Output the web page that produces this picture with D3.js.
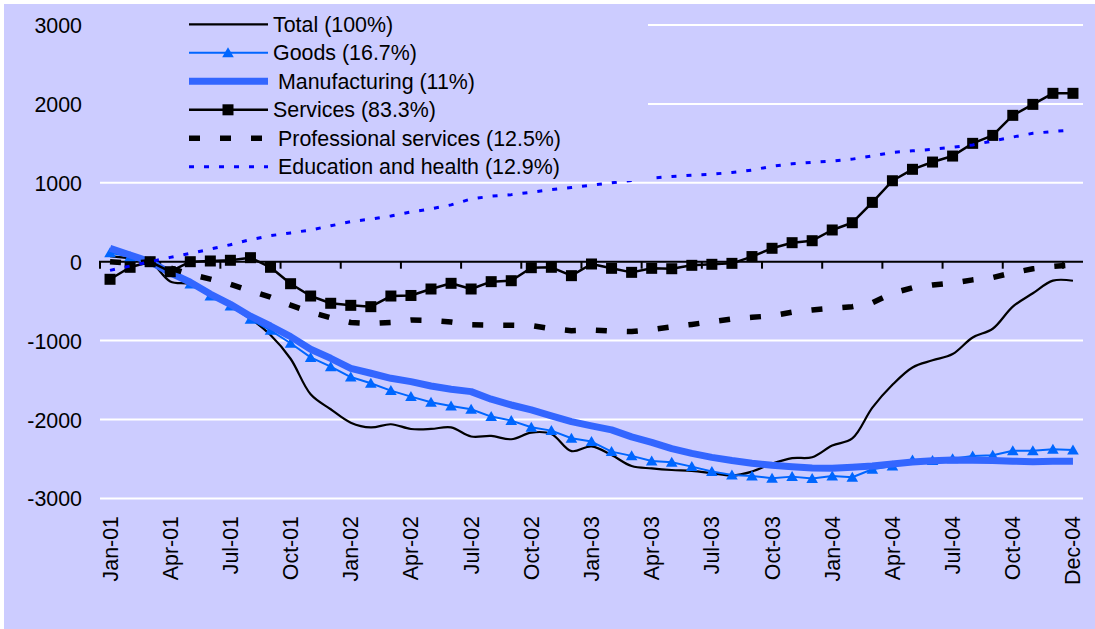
<!DOCTYPE html>
<html>
<head>
<meta charset="utf-8">
<script src="https://cdn.jsdelivr.net/npm/d3@7"></script>
<style>
  body { margin: 0; background: #fff; }
  svg { display: block; }
  text { font-family: "Liberation Sans", Arial, sans-serif; font-size: 21.4px; fill: #000; }
</style>
</head>
<body>
<script>
// monthly change in employment since the Mar-01 peak (thousands)
const months = [
  'Jan-01','Feb-01','Mar-01','Apr-01','May-01','Jun-01','Jul-01','Aug-01','Sep-01','Oct-01','Nov-01','Dec-01',
  'Jan-02','Feb-02','Mar-02','Apr-02','May-02','Jun-02','Jul-02','Aug-02','Sep-02','Oct-02','Nov-02','Dec-02',
  'Jan-03','Feb-03','Mar-03','Apr-03','May-03','Jun-03','Jul-03','Aug-03','Sep-03','Oct-03','Nov-03','Dec-03',
  'Jan-04','Feb-04','Mar-04','Apr-04','May-04','Jun-04','Jul-04','Aug-04','Sep-04','Oct-04','Nov-04','Dec-04','Jan-05'
]
const tickLabels = ['Jan-01','Apr-01','Jul-01','Oct-01','Jan-02','Apr-02','Jul-02','Oct-02',
  'Jan-03','Apr-03','Jul-03','Oct-03','Jan-04','Apr-04','Jul-04','Oct-04','Dec-04']
const tickIndex = [0, 3, 6, 9, 12, 15, 18, 21, 24, 27, 30, 33, 36, 39, 42, 45, 48]
const yTicks = [-3000, -2000, -1000, 0, 1000, 2000, 3000]

const total = [70, 40, 0, -250, -285, -430, -560, -720, -930, -1230, -1680, -1870, -2040, -2100, -2060, -2120,
  -2120, -2100, -2215, -2208, -2250, -2166, -2183, -2400, -2340, -2450, -2590, -2620, -2640, -2650, -2680, -2710,
  -2660, -2560, -2490, -2478, -2330, -2240, -1850, -1560, -1340, -1250, -1170, -960, -850, -570, -400, -240, -241]
const goods = [114, 63, 0, -130, -283, -435, -561, -730, -870, -1034, -1213, -1330, -1462, -1541, -1634, -1710,
  -1781, -1828, -1870, -1963, -2014, -2098, -2141, -2238, -2280, -2407, -2461, -2525, -2542, -2597, -2660, -2702,
  -2715, -2745, -2724, -2749, -2715, -2732, -2631, -2589, -2513, -2521, -2496, -2462, -2453, -2395, -2395, -2377, -2386]
const manufacturing = [170, 85, 0, -140, -260, -410, -540, -690, -815, -950, -1110, -1224, -1351, -1414, -1478, -1520,
  -1575, -1617, -1647, -1743, -1816, -1879, -1955, -2027, -2080, -2132, -2220, -2290, -2370, -2430, -2480, -2520,
  -2554, -2580, -2600, -2615, -2618, -2605, -2590, -2563, -2540, -2522, -2512, -2515, -2520, -2528, -2534, -2530, -2529]
const services = [-223, -71, 0, -127, 0, 9, 18, 51, -71, -279, -435, -527, -553, -570, -435, -428,
  -346, -274, -346, -253, -241, -76, -71, -177, -29, -84, -135, -84, -89, -46, -33, -21,
  65, 170, 241, 266, 402, 494, 752, 1026, 1171, 1263, 1339, 1500, 1601, 1855, 1994, 2134, 2134]
const professional = [0, -20, 0, -80, -160, -220, -285, -370, -450, -550, -640, -710, -770, -785, -770, -740,
  -745, -765, -800, -805, -805, -810, -850, -875, -865, -880, -885, -860, -825, -795, -760, -725,
  -705, -685, -640, -612, -590, -570, -520, -400, -330, -295, -270, -230, -200, -140, -90, -60, -40]
const education = [-110, -55, 0, 55, 105, 160, 215, 280, 330, 365, 402, 455, 507, 541, 580, 630,
  670, 720, 795, 830, 850, 880, 915, 940, 970, 1000, 1030, 1060, 1080, 1095, 1110, 1130,
  1160, 1210, 1240, 1260, 1276, 1300, 1340, 1386, 1405, 1424, 1450, 1480, 1530, 1580, 1627, 1650, 1669]

const seriesNames = ['Total (100%)', 'Goods (16.7%)', 'Manufacturing (11%)', 'Services (83.3%)',
  'Professional services (12.5%)', 'Education and health (12.9%)']
const seriesValues = [total, goods, manufacturing, services, professional, education]

// look of each series
const looks = [
  { color: '#000', width: 2.2, dash: null, marker: null, smooth: true },
  { color: '#0066FF', width: 2, dash: null, marker: 'triangle' },
  { color: '#3366FF', width: 7, dash: null, marker: null, wideKey: true },
  { color: '#000', width: 2.5, dash: null, marker: 'square' },
  { color: '#000', width: 5.5, dash: '11,20', marker: null, wideKey: true },
  { color: '#0000FF', width: 3, dash: '5,10', marker: null, wideKey: true }
]

const WIDTH = 1095
const HEIGHT = 629
const LEFT = 100
const RIGHT = 1083

const svg = d3.select('body').append('svg')
  .attr('width', WIDTH)
  .attr('height', HEIGHT)

svg.append('rect').attr('width', WIDTH).attr('height', HEIGHT).attr('fill', '#fff')
svg.append('rect').attr('x', 4).attr('y', 4)
  .attr('width', WIDTH - 4).attr('height', HEIGHT - 4).attr('fill', '#CCCCFF')

const x = d3.scaleBand()
  .domain(d3.range(months.length))
  .range([LEFT, RIGHT])
const bw = x.bandwidth()
const cx = i => x(i) + bw / 2

const y = d3.scaleLinear()
  .domain([-3000, 3000])
  .range([498.4, 25])

// gridlines
svg.append('g').selectAll('line')
  .data(yTicks.filter(v => v !== 0))
  .enter()
  .append('line')
  .attr('x1', LEFT)
  .attr('x2', RIGHT)
  .attr('y1', d => y(d))
  .attr('y2', d => y(d))
  .attr('stroke', '#fff')
  .attr('stroke-width', 2)

// y labels (plain hyphen for the minus sign)
const leftAxis = svg.append('g')
  .attr('transform', 'translate(82,0)')
  .call(d3.axisLeft(y).tickValues(yTicks).tickSize(0).tickPadding(0).tickFormat(d => String(d)))
leftAxis.select('.domain').remove()
leftAxis.attr('font-size', null).attr('font-family', null)
leftAxis.selectAll('text').attr('dy', '0.35em')

// zero axis with ticks between categories
const y0 = y(0)
const zero = svg.append('g')
zero.append('line')
  .attr('x1', LEFT - 1).attr('x2', RIGHT)
  .attr('y1', y0).attr('y2', y0)
  .attr('stroke', '#000').attr('stroke-width', 2)
zero.selectAll('.tick')
  .data(tickIndex)
  .enter()
  .append('line')
  .attr('x1', d => LEFT + d * bw)
  .attr('x2', d => LEFT + d * bw)
  .attr('y1', y0)
  .attr('y2', y0 + 7)
  .attr('stroke', '#000')
  .attr('stroke-width', 2)

// category labels, rotated
const bottomAxis = svg.append('g')
  .attr('transform', 'translate(0,516)')
  .call(d3.axisBottom(x).tickValues(tickIndex).tickSize(0).tickFormat((d, i) => tickLabels[i]))
bottomAxis.select('.domain').remove()
bottomAxis.attr('font-size', null).attr('font-family', null)
bottomAxis.selectAll('text')
  .attr('y', 0)
  .attr('x', 0)
  .attr('dy', '0.35em')
  .attr('transform', 'rotate(-90)')
  .attr('text-anchor', 'end')

// series
const trianglePath = 'M0,-5.5L5.8,4.5L-5.8,4.5Z'

const drawMarker = (g, type, color, px, py) => {
  if (type === 'triangle') {
    g.append('path').attr('d', trianglePath)
      .attr('transform', `translate(${px},${py})`)
      .attr('fill', color)
  } else if (type === 'square') {
    g.append('rect')
      .attr('x', px - 5.5).attr('y', py - 5.5)
      .attr('width', 11).attr('height', 11)
      .attr('fill', '#000')
  }
}

const plot = svg.append('g')
seriesValues.forEach((vals, s) => {
  const look = looks[s]
  const line = d3.line()
    .x((d, i) => cx(i))
    .y(d => y(d))
    .curve(look.smooth ? d3.curveCatmullRom.alpha(0.5) : d3.curveLinear)
  const g = plot.append('g')
  g.append('path')
    .datum(vals)
    .attr('d', line)
    .attr('fill', 'none')
    .attr('stroke', look.color)
    .attr('stroke-width', look.width)
    .attr('stroke-dasharray', look.dash)
    .attr('stroke-linejoin', 'round')
  if (look.marker) {
    vals.forEach((v, i) => drawMarker(g, look.marker, look.color, cx(i), y(v)))
  }
})

// legend (its box hides the top gridlines)
const legend = svg.append('g')
legend.append('rect')
  .attr('x', 95).attr('y', 6)
  .attr('width', 553).attr('height', 175)
  .attr('fill', '#CCCCFF')
seriesNames.forEach((name, s) => {
  const look = looks[s]
  const ry = 24.3 + s * 28.5
  legend.append('line')
    .attr('x1', 189).attr('x2', 268)
    .attr('y1', ry).attr('y2', ry)
    .attr('stroke', look.color)
    .attr('stroke-width', look.width)
    .attr('stroke-dasharray', look.dash)
  if (look.marker) drawMarker(legend, look.marker, look.color, 228, ry)
  legend.append('text')
    .attr('x', look.wideKey ? 278 : 273)
    .attr('y', ry)
    .attr('dy', '0.35em')
    .text(name)
})
</script>
</body>
</html>
